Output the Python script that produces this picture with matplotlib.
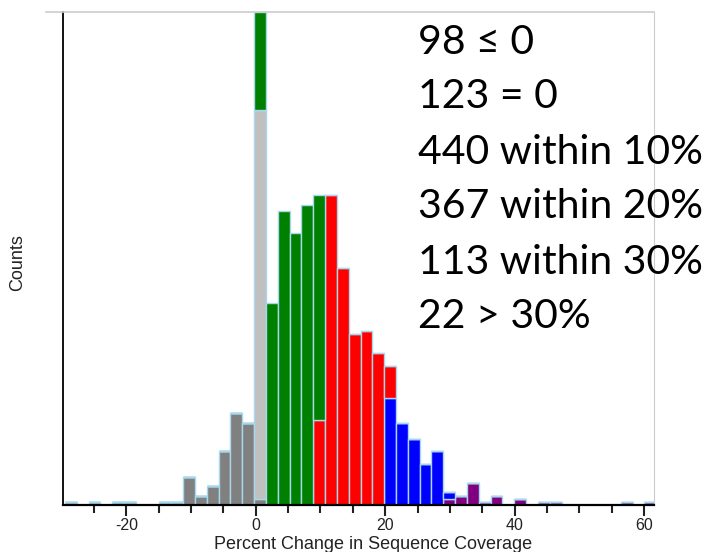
import numpy as np
import matplotlib.pyplot as plt
from matplotlib.lines import Line2D

plt.rcParams['axes.unicode_minus'] = False

# histogram bins (percent change), left edge of bin 0 and width
bin_start = -0.26
bin_width = 1.828
bin_index = np.arange(-16, 34)

# counts per category, by bin index
neg_bins = [-16, -14, -12, -11, -8, -7, -6, -5, -4, -3, -2, -1, 0]
neg_counts = [1, 1, 1, 1, 1, 1, 9, 3, 6, 17, 29, 26, 2]
zero_bins = [0]
zero_counts = [123]
p10_bins = [0, 1, 2, 3, 4, 5]
p10_counts = [31, 64, 93, 86, 95, 71]
p20_bins = [5, 6, 7, 8, 9, 10, 11]
p20_counts = [27, 98, 75, 54, 55, 48, 10]
p30_bins = [11, 12, 13, 14, 15, 16]
p30_counts = [34, 26, 21, 13, 17, 2]
over_bins = [16, 17, 18, 19, 20, 22, 24, 25, 31, 33]
over_counts = [2, 3, 7, 1, 3, 2, 1, 1, 1, 1]

summary = ["98 \u2264 0", "123 = 0", "440 within 10%", "367 within 20%",
           "113 within 30%", "22 > 30%"]

# stacked bottom -> top
series = [
    (neg_bins, neg_counts, '#808080'),
    (zero_bins, zero_counts, '#c0c0c0'),
    (over_bins, over_counts, '#800080'),
    (p30_bins, p30_counts, '#0000ff'),
    (p20_bins, p20_counts, '#ff0000'),
    (p10_bins, p10_counts, '#008000'),
]

fig = plt.figure(figsize=(7.11, 5.52), dpi=100)
ax = fig.add_axes([63 / 711, 1 - 505 / 552, (654.3 - 63) / 711, (505 - 12) / 552])

lefts = bin_start + bin_index * bin_width
bottom = np.zeros(len(bin_index))
for bins, counts, col in series:
    h = np.zeros(len(bin_index))
    for b, c in zip(bins, counts):
        h[b - bin_index[0]] = c
    ax.bar(lefts, h, width=bin_width, bottom=bottom, align='edge',
           color=col, edgecolor='#a8d8ec', linewidth=1.0, zorder=2)
    bottom += h

ax.set_xlim(-29.8, 61.6)
ax.set_ylim(0, bottom.max())
ax.set_yticks([])
ax.set_xticks([-20, 0, 20, 40, 60])
ax.set_xticks(np.arange(-25, 61, 5), minor=True)
ax.tick_params(axis='x', which='major', length=8, width=1.5, color='#222222',
               labelsize=11.5, labelcolor='#222222', pad=1)
ax.tick_params(axis='x', which='minor', length=6, width=1.5, color='#222222')
for lab in ax.get_xticklabels():
    lab.set_family(['Liberation Sans', 'DejaVu Sans'])

ax.spines['bottom'].set_linewidth(1.6)
ax.spines['bottom'].set_zorder(3)
ax.spines['left'].set_linewidth(1.3)
ax.spines['right'].set_color('#cccccc')
ax.spines['top'].set_visible(False)
fig.add_artist(Line2D([46 / 711, 654.3 / 711], [1 - 12 / 552, 1 - 12 / 552],
                      color='#cccccc', linewidth=1.2))

fig.text(373.5 / 711, 1 - 549 / 552, "Percent Change in Sequence Coverage",
         ha='center', va='baseline', fontsize=13, color='#222222',
         family=['Liberation Sans', 'DejaVu Sans'])
fig.text(18 / 711, 1 - 263 / 552, "Counts", rotation=90, ha='center',
         va='center', fontsize=13, color='#222222',
         family=['Liberation Sans', 'DejaVu Sans'])

for i, s in enumerate(summary):
    fig.text(418 / 711, 1 - (42 + 55 * i) / 552, s, ha='left', va='center',
             fontsize=29.5, color='black', family=['Lato', 'DejaVu Sans'])

fig.savefig('out.png', dpi=100)
